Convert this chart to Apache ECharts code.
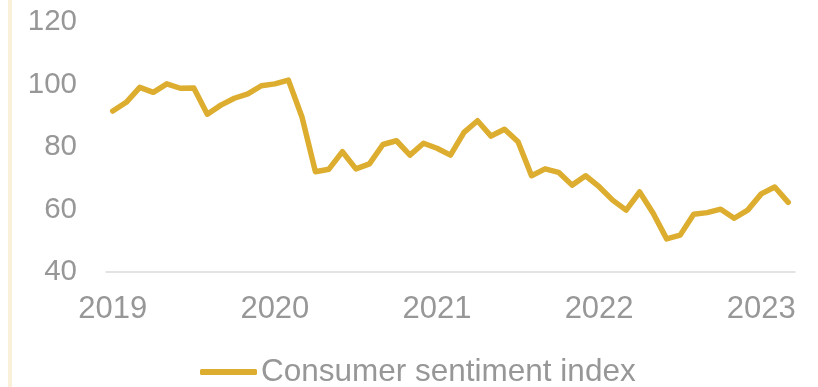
<!DOCTYPE html>
<html>
<head>
<meta charset="utf-8">
<script src="https://cdn.jsdelivr.net/npm/echarts@6/dist/echarts.min.js"></script>
<style>
  html, body { margin: 0; padding: 0; background: #ffffff; }
  #chart { width: 818px; height: 387px; }
</style>
</head>
<body>
<div id="chart"></div>
<script>
// Monthly consumer sentiment, Jan 2019 – Mar 2023
const years = ['2019', '2020', '2021', '2022', '2023'];
const months = ['01', '02', '03', '04', '05', '06', '07', '08', '09', '10', '11', '12'];
const categories = [];
years.forEach(function (y) {
  months.forEach(function (m) {
    if (y !== '2023' || Number(m) <= 3) categories.push(y + '-' + m);
  });
});

const sentiment = [
  91.5, 94.3, 99.1, 97.5, 100.2, 98.8, 98.9, 90.5, 93.4, 95.6, 97.0, 99.6,
  100.2, 101.4, 89.7, 72.1, 72.9, 78.5, 73.0, 74.6, 80.8, 82.0, 77.4, 81.2,
  79.6, 77.4, 84.7, 88.4, 83.5, 85.7, 81.7, 70.8, 73.0, 71.9, 67.8, 70.8,
  67.3, 63.0, 59.8, 65.6, 58.8, 50.6, 51.8, 58.5, 59.0, 60.1, 57.2, 59.8,
  65.0, 67.2, 62.3
];

const seriesName = 'Consumer sentiment index';
const textColor = '#979797';
const lineColor = '#DCAD2E';
const fontFamily = 'Liberation Sans, Arial, sans-serif';

const chart = echarts.init(document.getElementById('chart'), null, { renderer: 'canvas' });
chart.setOption({
  animation: false,
  backgroundColor: '#ffffff',
  textStyle: { fontFamily: fontFamily },
  graphic: [{
    type: 'rect',
    left: 8,
    top: 0,
    shape: { width: 4, height: 387 },
    style: { fill: '#FAF0DA' },
    silent: true
  }],
  grid: { left: 106, right: 23, top: 22, bottom: 115, containLabel: false },
  legend: {
    data: [seriesName],
    icon: 'roundRect',
    left: 195,
    top: 351,
    itemWidth: 57,
    itemHeight: 6,
    itemGap: 5,
    textStyle: { color: textColor, fontSize: 31.5, fontFamily: fontFamily, padding: [0, 0, 0, -1] }
  },
  xAxis: {
    type: 'category',
    data: categories,
    boundaryGap: true,
    axisLine: { show: true, lineStyle: { color: '#DADADA', width: 1.5 } },
    axisTick: { show: false },
    axisLabel: {
      interval: 11,
      margin: 22,
      color: textColor,
      fontSize: 31,
      fontFamily: fontFamily,
      formatter: function (v) { return v.slice(0, 4); }
    },
    splitLine: { show: false }
  },
  yAxis: {
    type: 'value',
    min: 40,
    max: 120,
    interval: 20,
    axisLine: { show: false },
    axisTick: { show: false },
    splitLine: { show: false },
    axisLabel: { margin: 29, color: textColor, fontSize: 29.5, fontFamily: fontFamily }
  },
  series: [{
    name: seriesName,
    type: 'line',
    data: sentiment,
    symbol: 'none',
    smooth: false,
    lineStyle: { color: lineColor, width: 5.5, cap: 'round', join: 'round' },
    itemStyle: { color: lineColor }
  }]
});
</script>
</body>
</html>
